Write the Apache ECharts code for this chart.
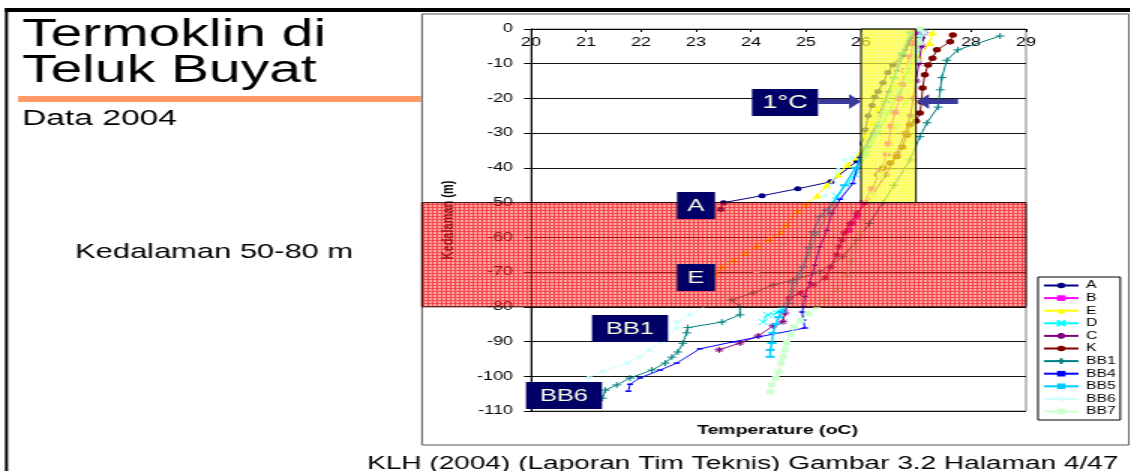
<!DOCTYPE html>
<html><head><meta charset="utf-8">
<script src="https://cdn.jsdelivr.net/npm/echarts@6/dist/echarts.min.js"></script>
<style>
html,body{margin:0;padding:0;background:#fff;overflow:hidden;}
#wrap{width:1130px;height:471px;overflow:hidden;position:relative;background:#fff;}
#chart{width:754px;height:471px;transform:scaleX(1.5);transform-origin:0 0;}
</style></head><body><div id="wrap"><div id="chart"></div></div>
<script>
// ---- data: [temperature (oC), depth (m)] ----
const seriesNames = ['A','B','E','D','C','K','BB1','BB4','BB5','BB6','BB7'];
const dataA = [[27.0,-1],[26.89,-3.7],[26.76,-7.5],[26.58,-10.4],[26.49,-12.5],[26.4,-15.5],[26.31,-18],[26.25,-19.6],[26.2,-22],[26.13,-25],[26.08,-29],[26.04,-33],[25.93,-38],[25.45,-44],[24.85,-46],[24.2,-48],[23.5,-50],[23.45,-52]];
const dataB = [[27.0,-1],[26.95,-4],[26.9,-8],[26.8,-12],[26.75,-16],[26.7,-20],[26.62,-24],[26.55,-28],[26.5,-33],[26.47,-36],[26.35,-41],[26.2,-46],[26.05,-50],[25.93,-54],[25.84,-56],[25.78,-58]];
const dataE = [[27.3,-1],[27.25,-4],[27.05,-8],[26.85,-12],[26.65,-16],[26.45,-20],[26.3,-23],[26.2,-27],[26.1,-30.5],[26.03,-34],[25.93,-37],[25.76,-39],[25.58,-42],[25.38,-45],[25.2,-48],[25.0,-50.4],[24.85,-52.4],[24.65,-56.4],[24.53,-58.5],[24.33,-60.5],[24.1,-62.5],[23.9,-64.5],[23.68,-66.5],[23.47,-68.5],[23.35,-70.3]];
const dataD = [[27.1,-1],[27.0,-6],[26.85,-12],[26.7,-18],[26.5,-24],[26.3,-30],[26.1,-36],[25.9,-42],[25.56,-48],[25.4,-53],[25.2,-59],[25.05,-65],[24.9,-71],[24.75,-76],[24.55,-80.5],[24.47,-81.8],[24.3,-82.3],[24.22,-84.4]];
const dataC = [[27.15,-1],[27.1,-5],[27.05,-10],[27.0,-15],[26.95,-20],[26.9,-25],[26.8,-30],[26.65,-36],[26.45,-42],[26.2,-48],[25.93,-53],[25.8,-56],[25.7,-58.7],[25.65,-60.8],[25.6,-62.7],[25.56,-65],[25.45,-68.5],[25.35,-71.7],[25.13,-73.7],[24.9,-76],[24.7,-77.5],[24.62,-81.8],[24.58,-84.3],[24.4,-85.5],[24.13,-88.4],[23.8,-90.4],[23.42,-92.4]];
const dataK = [[27.67,-1.7],[27.62,-3.7],[27.38,-6],[27.3,-8.4],[27.22,-10.4],[27.16,-13.2],[27.12,-17],[27.1,-21],[27.07,-24.2],[27.0,-26.5],[26.89,-27.6],[26.84,-30.5],[26.75,-34],[26.65,-36.8],[26.53,-38.6],[26.4,-40],[26.31,-42]];
const dataBB1 = [[28.53,-2],[27.76,-6],[27.56,-9],[27.47,-14],[27.44,-17.5],[27.4,-22.5],[27.2,-27],[27.07,-31],[26.89,-37.7],[26.6,-45],[26.4,-50],[26.15,-56],[25.93,-60.8],[25.67,-65.6],[25.25,-70],[24.76,-72.3],[24.4,-73.7],[24.04,-76],[23.65,-78],[23.8,-80],[23.8,-82.3],[23.47,-84.4],[22.85,-86],[22.83,-87.5],[22.76,-90.5],[22.67,-93],[22.56,-94.5],[22.44,-96.2],[22.2,-98.2],[21.8,-100.5],[21.56,-102.5],[21.35,-104],[21.3,-106.3]];
const dataBB4 = [[26.95,-1],[26.8,-6],[26.65,-12],[26.5,-18],[26.35,-24],[26.2,-30],[25.98,-37],[25.93,-40],[25.85,-44.5],[25.62,-49],[25.47,-53],[25.38,-58],[25.25,-62.7],[25.16,-68],[25.07,-73],[24.98,-77],[24.95,-80],[24.93,-81.5],[24.95,-83.8],[24.98,-86.1],[23.67,-90.1],[23.07,-92.1],[22.65,-96.2],[22.35,-98.2],[21.98,-100.5],[21.8,-102.3],[21.77,-104.3]];
const dataBB5 = [[26.9,-1],[26.75,-7],[26.6,-14],[26.45,-21],[26.3,-28],[26.1,-34],[25.9,-40],[25.7,-45],[25.5,-50],[25.38,-52],[25.25,-54],[25.13,-58.5],[25.05,-63],[24.95,-68.5],[24.75,-73],[24.7,-79],[24.55,-81.5],[24.5,-83],[24.45,-85],[24.4,-87.5],[24.38,-90.4],[24.35,-92.4],[24.35,-94.4]];
const dataBB6 = [[27.15,-1],[27.0,-6],[26.8,-12],[26.55,-19],[26.3,-26],[26.05,-33],[25.84,-36.9],[25.7,-37.7],[25.58,-40.6],[25.35,-48],[25.0,-55],[24.6,-62],[24.1,-70],[23.5,-77],[22.89,-82.3],[22.65,-84.4],[22.65,-86.1],[22.35,-90.1],[22.16,-92.4],[21.98,-94.4],[21.75,-96.2],[21.31,-98.5],[21.04,-100.5]];
const dataBB7 = [[27.07,0],[27.05,-4],[27.0,-9],[26.9,-15],[26.8,-21],[26.65,-28],[26.5,-35],[26.35,-42],[26.2,-48],[26.04,-55],[25.98,-58.7],[25.9,-62.7],[25.8,-67],[25.75,-71],[25.56,-75],[25.35,-78],[25.2,-80],[25.04,-82],[24.9,-84],[24.78,-85.8],[24.72,-88],[24.65,-90.4],[24.62,-92.4],[24.58,-94.4],[24.55,-96.2],[24.5,-98.7],[24.45,-100.5],[24.38,-102.5],[24.35,-104.5]];
const seriesData = [dataA,dataB,dataE,dataD,dataC,dataK,dataBB1,dataBB4,dataBB5,dataBB6,dataBB7];
const xMin = 20, xMax = 29, xStep = 1;
const yMin = -110, yMax = 0, yStep = 10;
const bandDepths = [-50, -80];      // thermocline band
const boxTemps = [26, 27];          // 1 degree box
const boxDepths = [0, -50];

// ---- styles ----
const S = 1.5; // horizontal stretch of the original slide
const vx = x => x / S;
const FONT = '"Liberation Sans", Arial, sans-serif';
const colors = ['#000080','#FF00FF','#FFFF00','#00FFFF','#800080','#800000','#008080','#0000FF','#00CCFF','#CCFFFF','#CCFFCC'];
const xP = 'path://M0,0L10,10M10,0L0,10';
const plusP = 'path://M5,0L5,10M0,5L10,5';
const starP = 'path://M5,0L5,10M0,5L10,5M1.5,1.5L8.5,8.5M8.5,1.5L1.5,8.5';
const symbols = ['circle','rect','triangle',xP,starP,'circle',plusP,'rect','rect','diamond','rect'];
const symSizes = [5,5,6,6,6,5.5,6,[4,1.5],[6,2],5,5];
const lineW = [1,1,1,1,1,1,1,1,1.4,1,1];

const dom = document.getElementById('chart');
const chart = echarts.init(dom, null, {renderer:'canvas'});

const series = seriesNames.map((n,i)=>({
  name:n, type:'line', data:seriesData[i], symbol:symbols[i], symbolSize:symSizes[i],
  showAllSymbol:true, animation:false, z: 2+i*0.01,
  lineStyle:{color:colors[i], width:lineW[i]},
  itemStyle:{color:colors[i], borderColor:colors[i], borderWidth:(i===3||i===4||i===6)?1:0}
}));

const option = {
  animation:false,
  backgroundColor:'transparent',
  textStyle:{fontFamily:FONT},
  grid:{left:354, right:70, top:29, bottom:60, show:true, borderColor:'#808080', borderWidth:1},
  xAxis:{type:'value', position:'top', min:xMin, max:xMax, interval:xStep,
    axisLine:{show:true, onZero:false, lineStyle:{color:'#000', width:1}},
    axisTick:{show:true, inside:true, length:3, lineStyle:{color:'#000'}},
    axisLabel:{inside:true, margin:8, fontSize:12, color:'#000', fontFamily:FONT, showMinLabel:true, showMaxLabel:true},
    splitLine:{show:false}},
  yAxis:{type:'value', min:yMin, max:yMax, interval:yStep,
    axisLine:{show:true, onZero:false, lineStyle:{color:'#000', width:1}},
    axisTick:{show:true, length:4.7, lineStyle:{color:'#000'}},
    axisLabel:{margin:12, fontSize:12, color:'#000', fontFamily:FONT},
    splitLine:{show:true, lineStyle:{color:'#111', width:1}},
    name:'Kedalaman (m)', nameLocation:'middle', nameGap:50, nameRotate:90,
    nameTextStyle:{fontWeight:'bold', fontSize:11, color:'#000', fontFamily:FONT}},
  legend:{data:seriesNames, orient:'vertical', left:vx(1038), top:277, itemWidth:23, itemHeight:7, itemGap:1.6,
    padding:[3,3,3,3], borderColor:'#000', borderWidth:1, backgroundColor:'#fff',
    textStyle:{fontSize:10.5, lineHeight:9, color:'#000', fontFamily:FONT}},
  series:series
};
chart.setOption(option);

function pattern(w,h,base,line){
  const c=document.createElement('canvas'); c.width=w; c.height=h;
  const g=c.getContext('2d');
  g.fillStyle=base; g.fillRect(1,1,w-1,h-1);
  g.fillStyle=line; g.fillRect(0,0,w,1); g.fillRect(0,1,1,h-1);
  return c;
}
const redPat = pattern(3,3,'rgba(255,80,80,0.5)','rgba(240,0,0,0.72)');
const yelPat = pattern(3,3,'rgba(255,255,0,0.68)','rgba(250,250,90,0.72)');

const P = (x,y)=>chart.convertToPixel({xAxisIndex:0,yAxisIndex:0},[x,y]);
const bTop = P(xMin,bandDepths[0])[1], bBot = P(xMin,bandDepths[1])[1], plotR = P(xMax,0)[0];
const yb0 = P(boxTemps[0],boxDepths[0]), yb1 = P(boxTemps[1],boxDepths[1]);

function txt(x,y,t,size,opts){
  return Object.assign({type:'text', x:x, y:y, z:120, style:Object.assign({text:t, fontSize:size, fontFamily:FONT, fill:'#000', align:'left', verticalAlign:'middle'}, opts||{})});
}
function navyLabel(x1,y1,x2,y2,t,size){
  return [
    {type:'rect', z:115, shape:{x:vx(x1), y:y1, width:vx(x2)-vx(x1), height:y2-y1}, style:{fill:'#000066'}},
    txt(vx((x1+x2)/2), (y1+y2)/2+0.5, t, size, {fill:'#FFFFE6', align:'center'})
  ];
}
const arrowC = '#3A3A9A';
const graphics = [
  // slide frame
  {type:'rect', z:0, shape:{x:vx(5), y:8, width:vx(1131)-vx(5), height:4}, style:{fill:'#000'}},
  {type:'rect', z:0, shape:{x:vx(5), y:8, width:vx(8)-vx(5), height:463}, style:{fill:'#000'}},
  {type:'rect', z:0, shape:{x:vx(18), y:96, width:vx(421)-vx(18), height:6}, style:{fill:'#FF9966'}},
  {type:'rect', z:0, shape:{x:vx(422), y:14, width:vx(1129)-vx(422), height:431}, style:{fill:'none', stroke:'#555', lineWidth:1}},
  // overlays
  {type:'rect', z:100, shape:{x:vx(422), y:bTop, width:plotR-vx(422), height:bBot-bTop}, style:{fill:{image:redPat, repeat:'repeat'}, stroke:'#3a0000', lineWidth:1}},
  {type:'rect', z:100, shape:{x:yb0[0], y:yb0[1], width:yb1[0]-yb0[0], height:yb1[1]-yb0[1]}, style:{fill:{image:yelPat, repeat:'repeat'}, stroke:'#000', lineWidth:1}},
  // arrows
  {type:'rect', z:110, shape:{x:vx(818), y:99, width:vx(850)-vx(818), height:5}, style:{fill:arrowC}},
  {type:'polygon', z:110, shape:{points:[[vx(849),94],[vx(861),101.5],[vx(849),109]]}, style:{fill:arrowC}},
  {type:'rect', z:110, shape:{x:vx(927), y:99, width:vx(958)-vx(927), height:5}, style:{fill:arrowC}},
  {type:'polygon', z:110, shape:{points:[[vx(929),94],[vx(917),101.5],[vx(929),109]]}, style:{fill:arrowC}},
  // texts
  txt(vx(22), 36, 'Termoklin di', 38),
  txt(vx(22), 72, 'Teluk Buyat', 38),
  txt(vx(22), 119, 'Data 2004', 22.4),
  txt(vx(75), 252.5, 'Kedalaman 50-80 m', 20.6),
  txt(vx(367), 464, 'KLH (2004) (Laporan Tim Teknis) Gambar 3.2 Halaman 4/47', 18.7),
  txt(vx(697), 430, 'Temperature (oC)', 13, {fontWeight:'bold'})
].concat(
  navyLabel(752,89,818,116,'1°C',18),
  navyLabel(677,192,715,219,'A',17),
  navyLabel(677,264,715,291,'E',17),
  navyLabel(592,315,668,342,'BB1',17),
  navyLabel(526,382,602,409,'BB6',17)
);
chart.setOption({graphic:graphics});
</script></body></html>
